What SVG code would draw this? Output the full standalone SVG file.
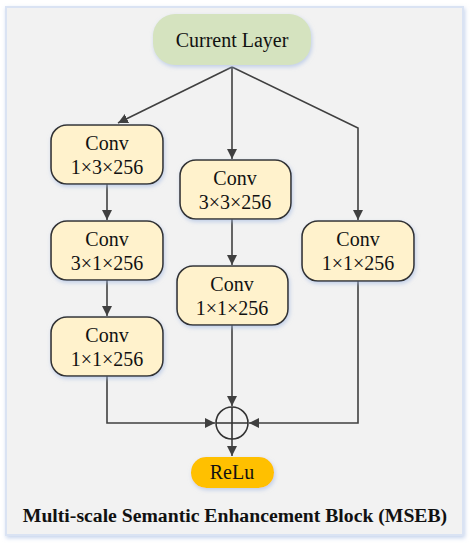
<svg xmlns="http://www.w3.org/2000/svg" width="471" height="550" viewBox="0 0 471 550">
<style>
.box{fill:#fff2cc;stroke:#333333;stroke-width:1.6}
.lbl{font-family:"Liberation Serif","Times New Roman",serif;font-size:20px;fill:#111111;text-anchor:middle}
.wire{fill:none;stroke:#404040;stroke-width:1.6}
</style>
<defs>
<marker id="ah" markerWidth="10" markerHeight="10" viewBox="0 0 10 10" refX="10" refY="5" orient="auto" markerUnits="userSpaceOnUse">
<path d="M0,0 L10,5 L0,10 z" fill="#404040"/>
</marker>
<filter id="sh" x="-20%" y="-20%" width="140%" height="150%">
<feDropShadow dx="1" dy="2" stdDeviation="2" flood-color="#9db6e0" flood-opacity="0.6"/>
</filter>
</defs>
<rect x="6" y="7" width="457" height="528" fill="#f2f2f2" stroke="#dae3f3" stroke-width="2" filter="url(#sh)"/>
<g id="connectors">
<path class="wire" d="M232,67 L118,123" marker-end="url(#ah)"/>
<path class="wire" d="M232,67 L232,159" marker-end="url(#ah)"/>
<path class="wire" d="M232,67 L358,128 L358,220" marker-end="url(#ah)"/>
<path class="wire" d="M107,184 L107,220" marker-end="url(#ah)"/>
<path class="wire" d="M107,280 L107,316" marker-end="url(#ah)"/>
<path class="wire" d="M232,219 L232,265" marker-end="url(#ah)"/>
<path class="wire" d="M107,376 L107,423 L215,423" marker-end="url(#ah)"/>
<path class="wire" d="M232,325 L232,406" marker-end="url(#ah)"/>
<path class="wire" d="M358,281 L358,423 L249,423" marker-end="url(#ah)"/>
<path class="wire" d="M232,439 L232,456" marker-end="url(#ah)"/>
</g>
<g id="current">
<rect x="153" y="14" width="158" height="51" rx="22" fill="#d5e3bf" filter="url(#sh)"/>
<text class="lbl" x="232" y="47">Current Layer</text>
</g>
<g id="conv1">
<rect class="box" x="51" y="125" width="112" height="59" rx="16" filter="url(#sh)"/>
<text class="lbl" x="107" y="150">Conv</text>
<text class="lbl" x="107" y="174">1×3×256</text>
</g>
<g id="conv2">
<rect class="box" x="51" y="221" width="112" height="59" rx="16" filter="url(#sh)"/>
<text class="lbl" x="107" y="246">Conv</text>
<text class="lbl" x="107" y="270">3×1×256</text>
</g>
<g id="conv3">
<rect class="box" x="51" y="317" width="112" height="59" rx="16" filter="url(#sh)"/>
<text class="lbl" x="107" y="342">Conv</text>
<text class="lbl" x="107" y="366">1×1×256</text>
</g>
<g id="conv4">
<rect class="box" x="180" y="160" width="111" height="59" rx="16" filter="url(#sh)"/>
<text class="lbl" x="235" y="185">Conv</text>
<text class="lbl" x="235" y="209">3×3×256</text>
</g>
<g id="conv5">
<rect class="box" x="177" y="266" width="111" height="59" rx="16" filter="url(#sh)"/>
<text class="lbl" x="232" y="291">Conv</text>
<text class="lbl" x="232" y="315">1×1×256</text>
</g>
<g id="conv6">
<rect class="box" x="302" y="221" width="112" height="60" rx="16" filter="url(#sh)"/>
<text class="lbl" x="358" y="246">Conv</text>
<text class="lbl" x="358" y="270">1×1×256</text>
</g>
<g id="sum">
<circle cx="232" cy="423" r="16" fill="none" stroke="#333333" stroke-width="1.6"/>
<path d="M216,423 H248 M232,407 V439" stroke="#333333" stroke-width="1.6"/>
</g>
<g id="relu">
<rect x="191" y="457" width="83" height="31" rx="15" fill="#ffc000" filter="url(#sh)"/>
<text class="lbl" x="232" y="479">ReLu</text>
</g>
<text x="235" y="522" text-anchor="middle" font-family="'Liberation Serif','Times New Roman',serif" font-weight="bold" font-size="19.7" fill="#111111">Multi-scale Semantic Enhancement Block (MSEB)</text>
</svg>
